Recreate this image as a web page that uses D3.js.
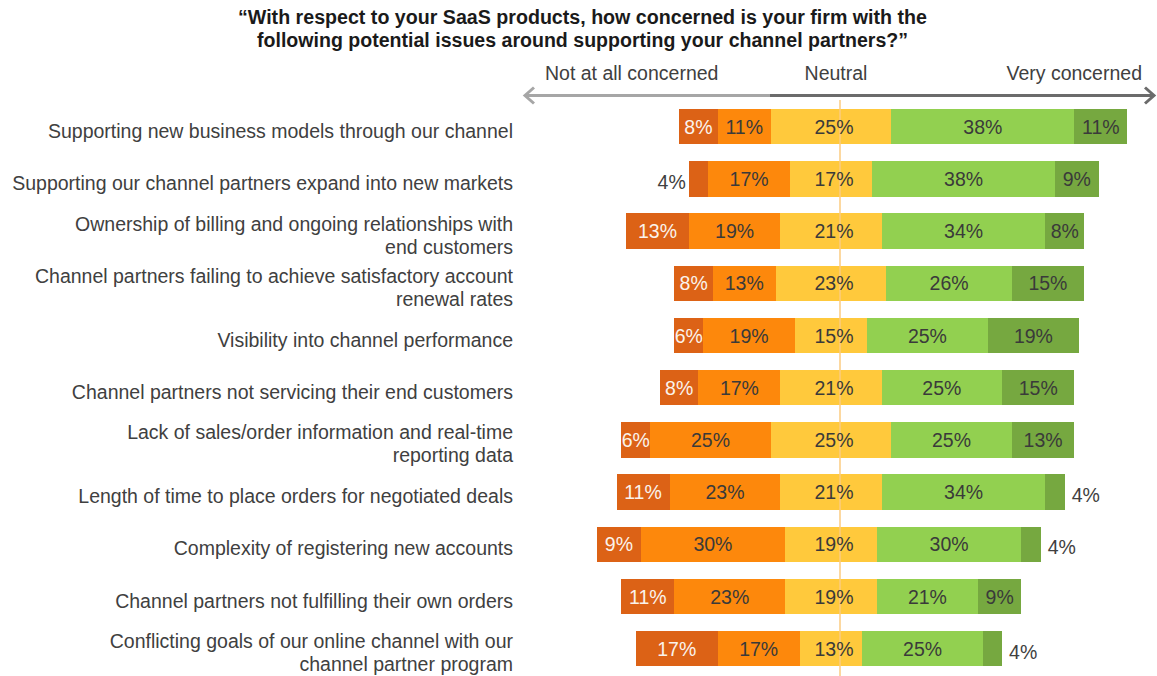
<!DOCTYPE html>
<html>
<head>
<meta charset="utf-8">
<script src="https://cdn.jsdelivr.net/npm/d3@7"></script>
<style>
  html, body { margin: 0; padding: 0; background: #ffffff; }
  svg { display: block; }
</style>
</head>
<body>
<div id="chart"></div>
<script>
// ---------------- DATA ----------------
const categories = [
  "Supporting new business models through our channel",
  "Supporting our channel partners expand into new markets",
  "Ownership of billing and ongoing relationships with\nend customers",
  "Channel partners failing to achieve satisfactory account\nrenewal rates",
  "Visibility into channel performance",
  "Channel partners not servicing their end customers",
  "Lack of sales/order information and real-time\nreporting data",
  "Length of time to place orders for negotiated deals",
  "Complexity of registering new accounts",
  "Channel partners not fulfilling their own orders",
  "Conflicting goals of our online channel with our\nchannel partner program"
];
const seriesNames = ["Not at all concerned (1)", "Not concerned (2)", "Neutral", "Concerned (4)", "Very concerned"];
const notAtAll   = [8, 4, 13, 8, 6, 8, 6, 11, 9, 11, 17];
const notConc    = [11, 17, 19, 13, 19, 17, 25, 23, 30, 23, 17];
const neutral    = [25, 17, 21, 23, 15, 21, 25, 21, 19, 19, 13];
const concerned  = [38, 38, 34, 26, 25, 25, 25, 34, 30, 21, 25];
const veryConc   = [11, 9, 8, 15, 19, 15, 13, 4, 4, 9, 4];
const seriesValues = [notAtAll, notConc, neutral, concerned, veryConc];
const colors = ["#DC6216", "#FD880C", "#FFC93C", "#92D050", "#76A840"];
const titleLines = [
  "\u201CWith respect to your SaaS products, how concerned is your firm with the",
  "following potential issues around supporting your channel partners?\u201D"
];
const scaleLabels = ["Not at all concerned", "Neutral", "Very concerned"];

// ---------------- LAYOUT ----------------
const W = 1157, H = 676;
const FONT = "'Liberation Sans', Arial, sans-serif";
const svg = d3.select("#chart").append("svg")
  .attr("width", W).attr("height", H)
  .style("font-family", FONT);

const x = d3.scaleLinear().domain([-60, 70]).range([541.8, 1168.4]);
const step = 52.2, pIn = 0.32;
const y = d3.scaleBand().domain(categories)
  .range([109 - step * pIn / 2, 109 - step * pIn / 2 + step * categories.length])
  .paddingInner(pIn).paddingOuter(pIn / 2);

// Title
svg.append("g").selectAll("text").data(titleLines).join("text")
  .attr("x", 582.5)
  .attr("y", (d, i) => 24 + i * 23)
  .attr("text-anchor", "middle")
  .attr("font-family", "'Liberation Sans Narrow', 'Arial Narrow', 'Liberation Sans', Arial, sans-serif")
  .attr("font-weight", "bold")
  .attr("font-size", 19.5)
  .attr("fill", "#1a1a1a")
  .attr("textLength", (d, i) => i === 0 ? 689 : 651)
  .attr("lengthAdjust", "spacingAndGlyphs")
  .text(d => d);

// Scale header labels
const hdr = svg.append("g").attr("font-size", 19.5).attr("fill", "#404040");
hdr.append("text").attr("x", 545).attr("y", 80).attr("text-anchor", "start").attr("fill", "#404040").text(scaleLabels[0]);
hdr.append("text").attr("x", 836).attr("y", 80).attr("text-anchor", "middle").attr("fill", "#404040").text(scaleLabels[1]);
hdr.append("text").attr("x", 1142).attr("y", 80).attr("text-anchor", "end").attr("fill", "#404040").text(scaleLabels[2]);

// Arrow
const ay = 95.5, axL = 524, axR = 1155, axMid = 770;
const arr = svg.append("g").attr("fill", "none").attr("stroke-width", 3).attr("stroke-linecap", "butt");
arr.append("line").attr("x1", axL + 1).attr("x2", axMid).attr("y1", ay).attr("y2", ay).attr("stroke", "#A6A6A6");
arr.append("line").attr("x1", axMid).attr("x2", axR - 1).attr("y1", ay).attr("y2", ay).attr("stroke", "#6B6B6B");
arr.append("path").attr("d", `M${axL + 10},${ay - 8} L${axL + 1},${ay} L${axL + 10},${ay + 8}`).attr("stroke", "#A6A6A6");
arr.append("path").attr("d", `M${axR - 10},${ay - 8} L${axR - 1},${ay} L${axR - 10},${ay + 8}`).attr("stroke", "#6B6B6B");

// Stacks
const rows = categories.map((c, i) => {
  const vals = seriesValues.map(s => s[i]);
  let start = -(vals[0] + vals[1] + vals[2] / 2);
  const segs = vals.map((v, k) => {
    const s = { cat: c, k, v, x0: start, x1: start + v };
    start += v;
    return s;
  });
  return { cat: c, segs };
});

const barG = svg.append("g");
rows.forEach(r => {
  barG.selectAll(null).data(r.segs).join("rect")
    .attr("x", d => x(d.x0))
    .attr("width", d => x(d.x1) - x(d.x0))
    .attr("y", y(r.cat))
    .attr("height", y.bandwidth())
    .attr("fill", d => colors[d.k])
    .attr("shape-rendering", "crispEdges");
});

// Center reference line (drawn over bars)
svg.append("line")
  .attr("x1", x(0) + 9).attr("x2", x(0) + 9)
  .attr("y1", 100).attr("y2", H)
  .attr("stroke", "#FBCB80").attr("stroke-width", 1.5);

// Value labels
const lblG = svg.append("g").attr("font-size", 19.5);
rows.forEach(r => {
  const cy = y(r.cat) + y.bandwidth() / 2;
  r.segs.forEach(d => {
    const small = d.v <= 4;
    let tx, anchor, fill;
    if (small && d.k === 0) { tx = x(d.x0) - 3; anchor = "end"; fill = "#404040"; }
    else if (small && d.k === 4) { tx = x(d.x1) + 7; anchor = "start"; fill = "#404040"; }
    else { tx = (x(d.x0) + x(d.x1)) / 2 + (d.k === 2 ? 3 : 0); anchor = "middle"; fill = d.k === 0 ? "#FAF3EC" : "#3A3A3A"; }
    lblG.append("text")
      .attr("x", tx).attr("y", cy + (small ? 3 : 0)).attr("dy", "0.36em")
      .attr("text-anchor", anchor).attr("fill", fill)
      .text(d.v + "%");
  });
});

// Category labels
const catG = svg.append("g").attr("font-size", 19.5).attr("fill", "#404040");
categories.forEach(c => {
  const lines = c.split("\n");
  const cy = y(c) + y.bandwidth() / 2 + 4;
  const lh = 23;
  const t = catG.append("text").attr("text-anchor", "end").attr("fill", "#404040");
  lines.forEach((ln, j) => {
    t.append("tspan")
      .attr("x", 513)
      .attr("y", cy + (j - (lines.length - 1) / 2) * lh)
      .attr("dy", "0.36em")
      .text(ln);
  });
});
</script>
</body>
</html>
